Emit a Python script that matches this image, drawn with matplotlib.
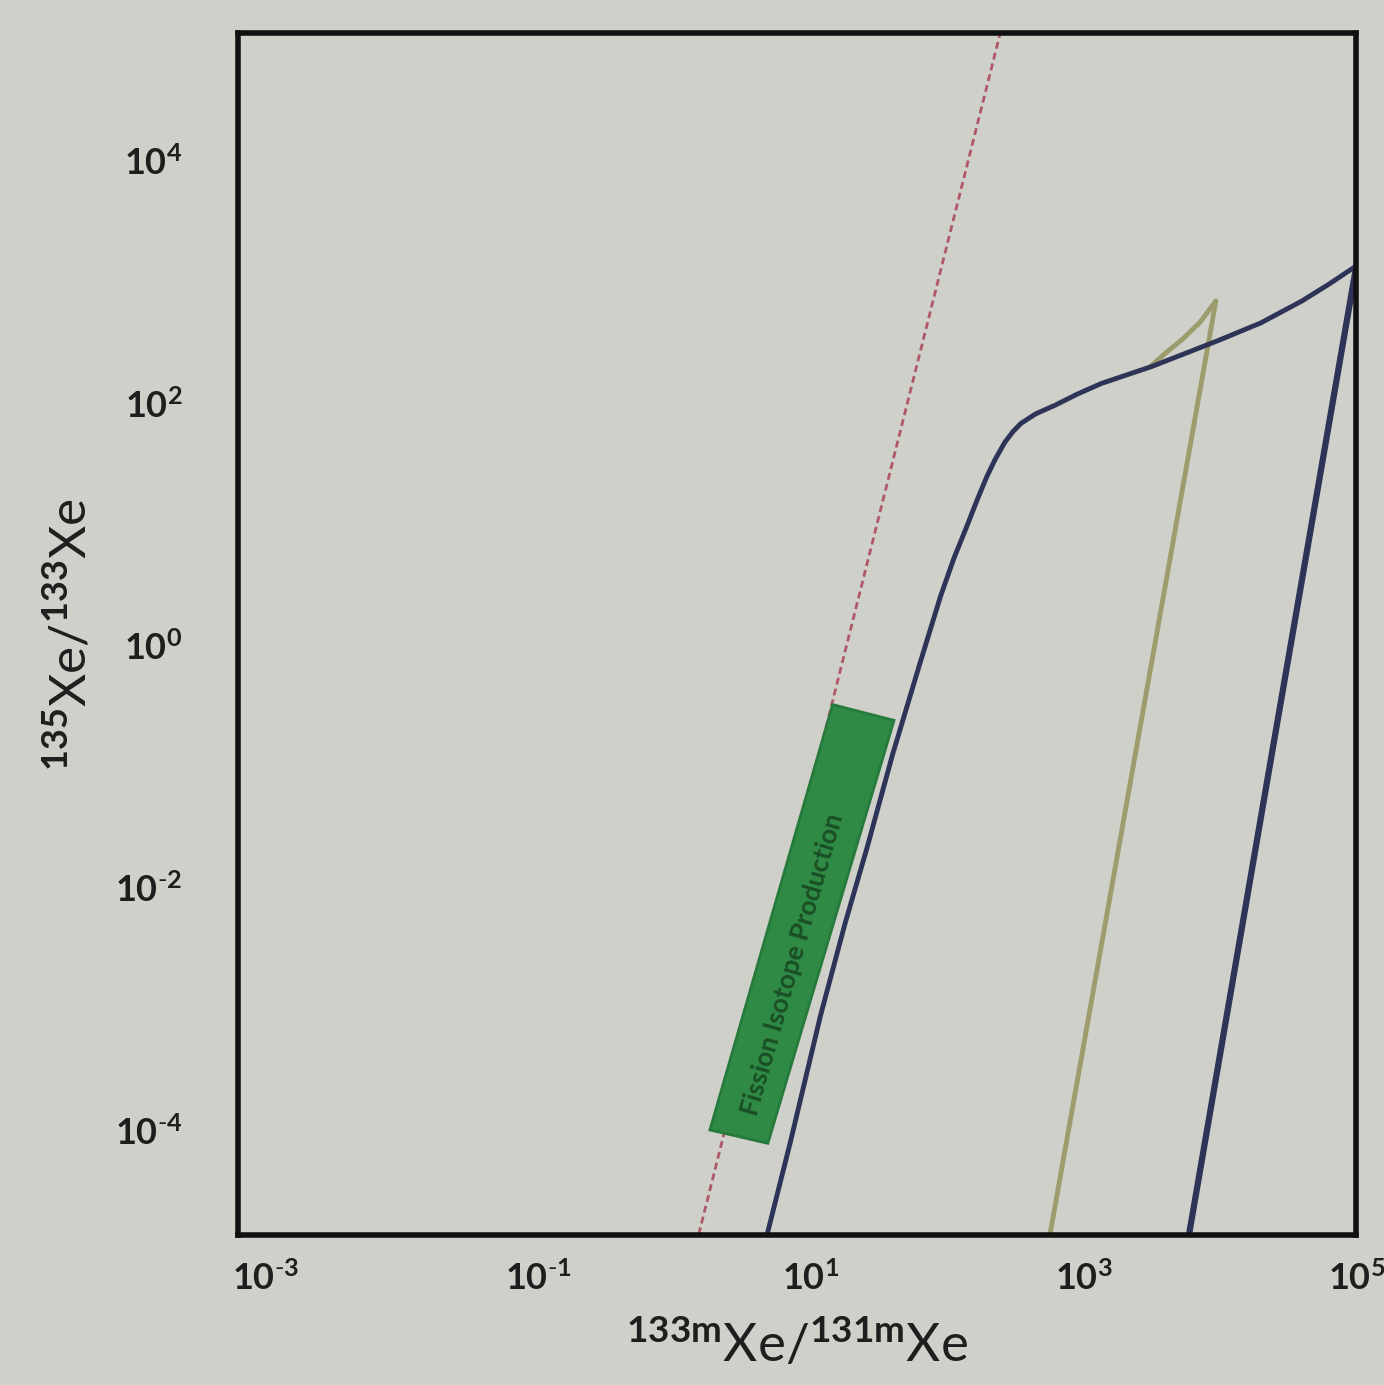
import numpy as np
import matplotlib.pyplot as plt
from matplotlib.patches import Polygon

plt.rcParams['font.family'] = ['Lato', 'DejaVu Sans']
plt.rcParams['mathtext.fontset'] = 'custom'
plt.rcParams['mathtext.rm'] = 'Lato'
plt.rcParams['mathtext.it'] = 'Lato:italic'
plt.rcParams['mathtext.bf'] = 'Lato:bold'

# values, as log10
fission_logx = [0.0, 2.5]
fission_logy = [-5.66, 5.55]

blue1_logx = [0.66, 0.85, 1.07, 1.25, 1.41, 1.6, 1.8, 1.95, 2.05, 2.14, 2.22, 2.29, 2.35,
              2.42, 2.48, 2.54, 2.65, 2.79, 2.95, 3.13, 3.5, 4.0, 4.3, 4.6, 4.8, 5.0]
blue1_logy = [-4.95, -4.1, -3.06, -2.3, -1.68, -0.9, -0.15, 0.4, 0.72, 0.97, 1.2, 1.39, 1.53,
              1.67, 1.76, 1.83, 1.91, 1.98, 2.07, 2.16, 2.3, 2.52, 2.66, 2.84, 2.98, 3.13]

blue2_logx = [3.76, 4.38, 5.0]
blue2_logy = [-4.95, -0.9, 3.13]

olive_logx = [2.74, 3.97, 3.85, 3.72, 3.6, 3.49]
olive_logy = [-4.95, 2.84, 2.66, 2.52, 2.41, 2.3]

box_logx = [1.16, 1.61, 0.685, 0.26]
box_logy = [-0.49, -0.62, -4.11, -4.0]
box_text = "Fission Isotope Production"

xticks = [-3, -1, 1, 3, 5]
yticks = [-4, -2, 0, 2, 4]


def tick_label(p):
    if p < 0:
        return r'$\mathbf{10^{\text{-}%d}}$' % (-p)
    return r'$\mathbf{10^{%d}}$' % p


bg = '#cfd0ca'
ink = '#1e1e1e'
fig = plt.figure(figsize=(13.84, 13.85), dpi=100, facecolor=bg)
ax = fig.add_axes([0.172, 0.108, 0.808, 0.868])
ax.set_facecolor(bg)
ax.set_xscale('log')
ax.set_yscale('log')
ax.set_xlim(10 ** -3.2, 10 ** 5.0)
ax.set_ylim(10 ** -4.87, 10 ** 5.05)

ax.plot(10 ** np.array(fission_logx), 10 ** np.array(fission_logy), '--',
        color='#b0586a', lw=2, dashes=(2.5, 1.5))
ax.plot(10 ** np.array(olive_logx), 10 ** np.array(olive_logy), color='#9c9c6c', lw=3.5,
        solid_joinstyle='round')
ax.plot(10 ** np.array(blue1_logx), 10 ** np.array(blue1_logy), color='#2e3358', lw=3.5,
        solid_joinstyle='round')
ax.plot(10 ** np.array(blue2_logx), 10 ** np.array(blue2_logy), color='#2e3358', lw=4.5)

corners = np.column_stack([10 ** np.array(box_logx), 10 ** np.array(box_logy)])
ax.add_patch(Polygon(corners, closed=True, facecolor='#2f8a46', edgecolor='#267a3c', lw=2, zorder=4))
cx = 10 ** (np.mean(box_logx) - 0.06)
cy = 10 ** (np.mean(box_logy) - 0.33)
ax.text(cx, cy, box_text, rotation=74, ha='center', va='center', fontsize=19,
        color='#1a4f26', fontweight='bold', zorder=5)

ax.set_xticks([10.0 ** t for t in xticks])
ax.set_xticklabels([tick_label(t) for t in xticks])
ax.set_yticks([10.0 ** t for t in yticks])
ax.set_yticklabels([tick_label(t) for t in yticks])
ax.minorticks_off()
ax.tick_params(axis='x', length=0, pad=18, labelsize=26, labelcolor=ink)
ax.tick_params(axis='y', length=0, pad=40, labelsize=26, labelcolor=ink)

for s in ax.spines.values():
    s.set_linewidth(4)
    s.set_color('#111111')

ax.set_xlabel(r'$^{\mathbf{133m}}\mathregular{Xe/}^{\mathbf{131m}}\mathregular{Xe}$',
              fontsize=38, color=ink, labelpad=16)
ax.set_ylabel(r'$^{\mathbf{135}}\mathregular{Xe/}^{\mathbf{133}}\mathregular{Xe}$',
              fontsize=37, color=ink, labelpad=14)

fig.savefig('out.png', dpi=100, facecolor=bg)
